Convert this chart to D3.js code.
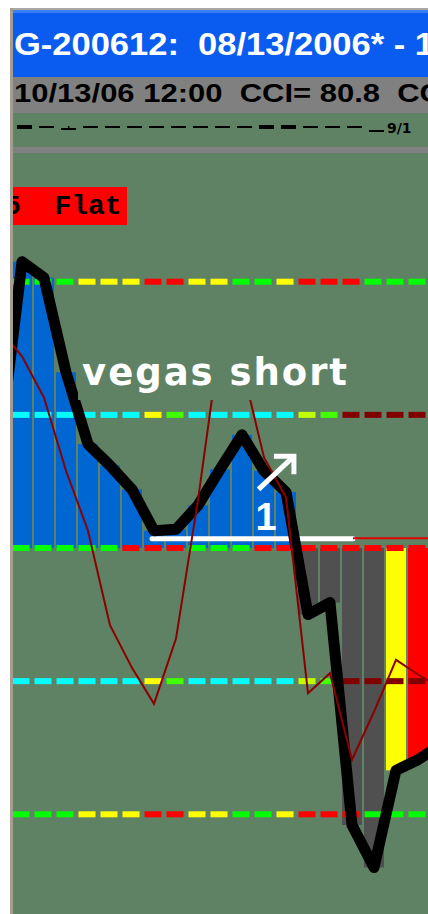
<!DOCTYPE html>
<html>
<head>
<meta charset="utf-8">
<script src="https://cdn.jsdelivr.net/npm/d3@7/dist/d3.min.js"></script>
<style>
  body { margin: 0; background: #ffffff; }
  svg { display: block; }
  text { white-space: pre; }
</style>
</head>
<body>
<div id="chart"></div>
<script>
// one bar slot before and one after the window are drawn too (they get clipped)
const bars   = [-1, 0, 1, 2, 3, 4, 5, 6, 7, 8, 9, 10, 11, 12, 13, 14, 15, 16, 17, 18, 19];
const cci    = [78, 215, 203, 132, 78, 62, 44, 13, 14, 32, 59, 85, 58, 42, -50, -41, -208, -240, -167, -159, -148];
const turbo  = [164, 144, 113, 58, 13, -58, -90, -117, -68, 36, 156, 137, 68, 38, -109, -94, -159, -123, -84, -95, -105];
const barKind = ["up", "up", "up", "up", "up", "up", "up", "up", "up", "up", "up", "up", "up", "up",
                 "down", "down", "down", "down", "warn", "last", "last"];

// level lines and the colour of each dash on them (bars 0..18)
const levels   = [200, 100, 0, -100, -200];
const dashOuter = ["G","G","G","Y","Y","Y","R","R","Y","Y","G","G","Y","R","R","R","G","G","G"];
const dashInner = ["C","C","C","C","C","C","Y","L","C","C","C","C","C","YG","L","DR","DR","DR","DR"];
const dashZero  = ["G","G","G","G","G","R","R","R","G","G","G","R","R","R","R","R","R","R","R"];

// time strip marks above the panel (bars 0..16) and its date label
const stripMarks = ["thick","thin","tick","thin","thin","thin","thin","thin","thin","thin","thin",
                    "thick","thick","thin","thin","thin","low"];
const stripLabel = {bar: 17, text: "9/1"};

// trend line
const trendFrom = 6, trendTo = 15, trendLevel = 7, trendExtendTo = 19;

const titleText = "G-200612:  08/13/2006* - 1";
const infoText  = "10/13/06 12:00  CCI= 80.8  CC";
const boxText   = "5  Flat";
const signalText = "vegas short";
const countText = "1";

const W = 428, H = 914;
const bg = "#608264";
const dashColor = {G:"#00ff00", Y:"#ffff00", R:"#ff0000", C:"#00ffff", L:"#40ff00", YG:"#c0ff00", DR:"#800000"};
const barColor = {up:"#0066d2", down:"#505050", warn:"#ffff00", last:"#ff0000"};

const svg = d3.select("#chart").append("svg")
  .attr("width", W).attr("height", H);

// frame
svg.append("rect").attr("width", W).attr("height", H).attr("fill", "#ffffff");
svg.append("rect").attr("x", 10).attr("y", 8).attr("width", W - 10).attr("height", 2).attr("fill", "#a8a8a8");
svg.append("rect").attr("x", 10).attr("y", 8).attr("width", 3).attr("height", H - 8).attr("fill", "#a49d90");

// title bar
svg.append("rect").attr("x", 13).attr("y", 10).attr("width", W - 13).attr("height", 67).attr("fill", "#0a5cf0");
svg.append("rect").attr("x", 13).attr("y", 10).attr("width", W - 13).attr("height", 3).attr("fill", "#3b7df5");
svg.append("text")
  .attr("x", 14).attr("y", 55)
  .attr("textLength", 420).attr("lengthAdjust", "spacingAndGlyphs")
  .style("font-family", "'Liberation Sans', Arial, sans-serif")
  .style("font-weight", "bold").style("font-size", "32px")
  .attr("fill", "#ffffff")
  .text(titleText);

// info bar
svg.append("rect").attr("x", 13).attr("y", 77).attr("width", W - 13).attr("height", 36).attr("fill", "#808080");
svg.append("text")
  .attr("x", 14).attr("y", 102)
  .attr("textLength", 428).attr("lengthAdjust", "spacingAndGlyphs")
  .style("font-family", "'Liberation Sans', Arial, sans-serif")
  .style("font-weight", "bold").style("font-size", "26px")
  .attr("fill", "#000000")
  .text(infoText);

// panel
svg.append("rect").attr("x", 13).attr("y", 113).attr("width", W - 13).attr("height", H - 113).attr("fill", bg);
svg.append("rect").attr("x", 13).attr("y", 147).attr("width", W - 13).attr("height", 6).attr("fill", "#808080");

const x = d3.scaleLinear().domain([0, 18]).range([22, 418]);
const y = d3.scaleLinear().domain([-200, 200]).range([814.3, 281.7]);

svg.append("clipPath").attr("id", "plot")
  .append("rect").attr("x", 13).attr("y", 153).attr("width", W - 13).attr("height", H - 153);
svg.append("clipPath").attr("id", "strip")
  .append("rect").attr("x", 13).attr("y", 113).attr("width", W - 13).attr("height", 34);

// time strip
const strip = svg.append("g").attr("clip-path", "url(#strip)");
strip.selectAll("rect.mark")
  .data(stripMarks)
  .enter().append("rect")
  .attr("class", "mark")
  .attr("x", (d, i) => x(i) - 5)
  .attr("y", d => d === "thick" ? 125 : d === "low" ? 130 : d === "tick" ? 128 : 126)
  .attr("width", 15)
  .attr("height", d => d === "thick" ? 4 : 2)
  .attr("fill", "#000000");
strip.selectAll("rect.tick")
  .data(stripMarks.map((d, i) => ({d, i})).filter(o => o.d === "tick"))
  .enter().append("rect")
  .attr("class", "tick")
  .attr("x", o => x(o.i) + 2).attr("y", 126)
  .attr("width", 1.5).attr("height", 2)
  .attr("fill", "#000000");
strip.append("text")
  .attr("x", x(stripLabel.bar) - 9).attr("y", 133)
  .style("font-family", "'DejaVu Sans', sans-serif")
  .style("font-weight", "bold").style("font-size", "14px")
  .attr("fill", "#000000")
  .text(stripLabel.text);

const plot = svg.append("g").attr("clip-path", "url(#plot)");

// status box
plot.append("rect").attr("x", 13).attr("y", 187).attr("width", 114).attr("height", 38).attr("fill", "#ff0000");
plot.append("text")
  .attr("x", 4).attr("y", 214)
  .style("font-family", "'Courier New', 'Liberation Mono', monospace")
  .style("font-weight", "bold").style("font-size", "28px")
  .attr("fill", "#000000")
  .text(boxText);

// histogram
const rows = bars.map((b, i) => ({bar: b, v: cci[i], t: turbo[i], kind: barKind[i]}));
plot.selectAll("rect.bar")
  .data(rows)
  .enter().append("rect")
  .attr("class", "bar")
  .attr("x", d => x(d.bar) - 10)
  .attr("width", 20)
  .attr("y", d => Math.min(y(d.v), y(0)))
  .attr("height", d => Math.abs(y(d.v) - y(0)))
  .attr("fill", d => barColor[d.kind]);

// dashed level lines
const dashRows = levels.map(lv => ({lv, cols: lv === 0 ? dashZero : Math.abs(lv) === 200 ? dashOuter : dashInner}));
dashRows.forEach(r => {
  plot.selectAll(null)
    .data(r.cols)
    .enter().append("rect")
    .attr("x", (c, i) => x(i) - 9.5)
    .attr("y", y(r.lv) - 3)
    .attr("width", 17)
    .attr("height", 6)
    .attr("fill", c => dashColor[c]);
});

// trend line
plot.append("line")
  .attr("x1", x(trendFrom) - 2).attr("x2", x(trendTo) + 1)
  .attr("y1", y(trendLevel)).attr("y2", y(trendLevel))
  .attr("stroke", "#ffffff").attr("stroke-width", 5).attr("stroke-linecap", "round");
plot.append("line")
  .attr("x1", x(trendTo) + 1).attr("x2", x(trendExtendTo))
  .attr("y1", y(trendLevel) - 0.5).attr("y2", y(trendLevel) - 0.5)
  .attr("stroke", "#e00000").attr("stroke-width", 2);

// CCI line
plot.append("path")
  .datum(rows)
  .attr("fill", "none")
  .attr("stroke", "#000000")
  .attr("stroke-width", 11)
  .attr("stroke-linejoin", "round")
  .attr("d", d3.line().x(d => x(d.bar)).y(d => y(d.v)));

// turbo line
plot.append("path")
  .datum(rows)
  .attr("fill", "none")
  .attr("stroke", "#8b0000")
  .attr("stroke-width", 2)
  .attr("d", d3.line().x(d => x(d.bar)).y(d => y(d.t)));

// signal label with its opaque backing
plot.append("rect").attr("x", 78).attr("y", 300).attr("width", 272).attr("height", 100).attr("fill", bg);
plot.append("text")
  .attr("x", x(2.73)).attr("y", y(122.4))
  .attr("textLength", 265).attr("lengthAdjust", "spacing")
  .style("font-family", "'DejaVu Sans', sans-serif")
  .style("font-weight", "bold").style("font-size", "37px")
  .attr("fill", "#ffffff")
  .text(signalText);

// arrow and count
const a0 = [x(10.75), y(44)], a1 = [x(12.36), y(69)];
const arrow = plot.append("g").attr("stroke", "#ffffff").attr("stroke-width", 5).attr("fill", "none");
arrow.append("line").attr("x1", a0[0]).attr("y1", a0[1]).attr("x2", a1[0] - 1).attr("y2", a1[1] + 1);
arrow.append("path")
  .attr("d", `M${a1[0] - 20},${a1[1]} L${a1[0]},${a1[1]} L${a1[0]},${a1[1] + 18}`)
  .attr("stroke-linejoin", "miter");
plot.append("text")
  .attr("x", x(11.09)).attr("y", y(13.5))
  .attr("text-anchor", "middle")
  .style("font-family", "'Liberation Sans', Arial, sans-serif")
  .style("font-weight", "bold").style("font-size", "38px")
  .attr("fill", "#ffffff")
  .text(countText);
</script>
</body>
</html>
